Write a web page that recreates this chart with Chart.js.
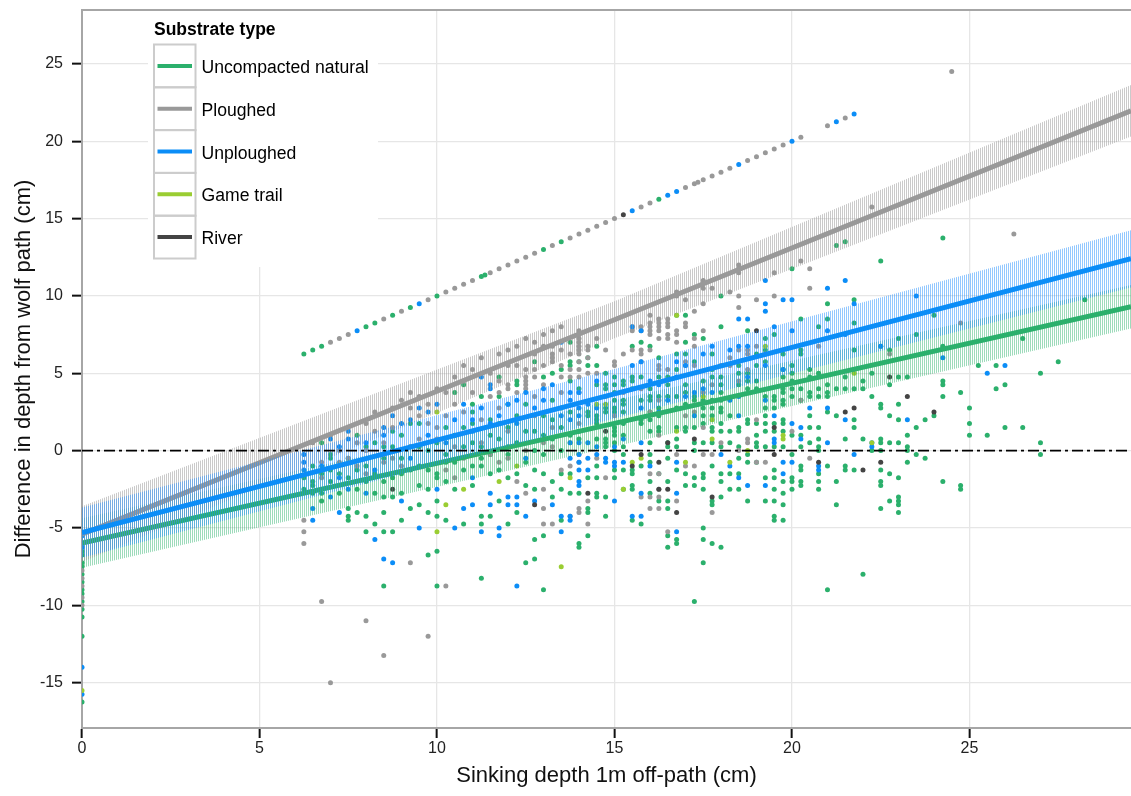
<!DOCTYPE html>
<html><head><meta charset="utf-8">
<script src="https://cdn.jsdelivr.net/npm/chart.js@4/dist/chart.umd.min.js"></script>
<style>html,body{margin:0;padding:0;background:#fff;}canvas{display:block;}</style>
</head><body>
<canvas id="c" width="1131" height="796"></canvas>
<script>
// ---------- labels ----------
const xTitle = 'Sinking depth 1m off-path (cm)';
const yTitle = 'Difference in depth from wolf path (cm)';
const legendTitle = 'Substrate type';
const seriesNames = ['Uncompacted natural', 'Ploughed', 'Unploughed', 'Game trail', 'River'];
const seriesColors = ['#2bb06c', '#999999', '#0b8df7', '#9acd32', '#444444'];
const xTicks = [0, 5, 10, 15, 20, 25];
const yTicks = [-15, -10, -5, 0, 5, 10, 15, 20, 25];
const xRange = [0, 29.55];
const yRange = [-17.93, 28.48];
const refLineY = 0;

// ---------- fitted lines and confidence bands ----------
const fitX = [0, 15, 29.55];
const naturalFit = [-5.97, 1.76, 9.3];
const naturalHi = [-4.37, 3.26, 10.7];
const naturalLo = [-7.57, 0.26, 7.9];
const ploughedFit = [-5.4, 8.46, 21.97];
const ploughedHi = [-3.6, 9.66, 23.64];
const ploughedLo = [-7.2, 7.26, 20.3];
const unploughedFit = [-5.3, 3.67, 12.4];
const unploughedHi = [-3.68, 5.27, 14.25];
const unploughedLo = [-6.92, 2.07, 10.55];

// ---------- observations ----------
const naturalPts = [
[0,-6.5],[0,-6.75],[0,-7.25],[0,-7.5],[0,-8],[0,-8.5],[0,-9],[0,-9.25],[0,-9.75],[0,-10.25],[0,-10.75],[0,-12],[0,-16.25],
[6.25,6.25],[6.5,6.5],[6.75,6.75],[8,8],[8.25,8.25],[8.75,8.75],[9.25,9.25],[10,10],[11.25,11.25],[11.35,11.35],[13,13],[13.5,13.5],[16.25,16.25],
[6.5,-2],[6.5,-2.25],[6.5,-1],[6.75,0.5],[6.75,-2.75],[6.75,-1.5],[7,-0.25],[7,-0.5],[7,-1.25],[7.25,-1.5],[7.5,-1.75],[7.5,-3.75],[7.5,-4.25],[7.5,-4.5],
[7.75,1],[7.75,-2.5],[7.75,-4],[8,-2],[8,-4.25],[8,-5.25],[8,-1],[8.25,0.5],[8.25,-2.75],[8.25,-4.75],[8.5,-0.5],[8.5,-4],[8.5,-5.25],[8.5,-8.75],[8.5,0.25],
[8.75,1.25],[8.75,0.25],[8.75,-1.75],[8.75,-5.25],[9,1],[9,-0.5],[9,-2.75],[9,-4.5],[9.25,1.75],[9.25,-3.75],[9.25,-1.25],[9.5,1.75],[9.5,0.25],[9.5,-1],
[9.75,0],[9.75,-2.5],[9.75,-6.75],[10,-1.5],[10,-1.75],[10,-3.25],[10,-6.5],[10,-8.75],[10.25,1.5],[10.25,-0.25],[10.25,-2],[10.25,-4.5],[10.5,3.75],[10.5,1],[10.5,-0.75],
[10.75,4.25],[10.75,-1.25],[10.75,0.25],[11,0.5],[11,-2.25],[11,-1],[11,2.5],[11.25,3.5],[11.25,-0.5],[11.25,-1],[11.25,-4.25],[11.25,-4.75],[11.25,-8.25],
[11.5,1],[11.5,-4.25],[11.5,-0.25],[11.5,2],[11.75,4.75],[11.75,3.5],[11.75,0.75],[11.75,-1.25],[12,-1.75],[12,1.5],[12,-0.25],[12,-4.75],
[12.25,4.25],[12.25,4.5],[12.25,0.5],[12.25,-1.5],[12.5,3],[12.5,-7.25],[12.5,1.25],[12.5,-2.25],[12.75,5.75],[12.75,-7],[12.75,0],[12.75,-1.25],[12.75,-5.75],
[13,4.75],[13,1],[13,-9],[13,2.25],[13,-1.5],[13,-5.5],[13.25,2],[13.25,5],[13.25,0.75],[13.25,-2],[13.25,-3],[13.5,5.25],[13.5,1.5],[13.5,-4.5],[13.5,0],[13.5,2.75],
[13.75,7],[13.75,5.75],[13.75,5.5],[13.75,4.5],[13.75,1],[13.75,-1.5],[13.75,-2.75],[13.75,2.5],
[14,5.75],[14,4],[14,1.25],[14,0.75],[14,-2.75],[14,-6],[14,-6.25],[14.25,6],[14.25,5.5],[14.25,2.5],[14.25,2.25],[14.25,-1.75],[14.25,-3.75],[14.25,-4],[14.25,-5.5],
[14.5,6.75],[14.5,5.5],[14.5,4.25],[14.5,2.25],[14.5,2],[14.5,1.75],[14.5,0.75],[14.5,-1],[14.5,-1.75],[14.5,-2.75],[14.5,-3],
[14.75,5],[14.75,4.25],[14.75,4],[14.75,2.75],[14.75,2.5],[14.75,0.75],[14.75,0.5],[14.75,0.25],[14.75,-3],[14.75,-4.25],
[15,4.75],[15,4.25],[15,3.75],[15,3.25],[15,2.75],[15,2.5],[15,1.5],[15,1.25],[15,1],[15,0.5],[15,0],[15,-1.25],[15,-1.75],
[15.25,4.5],[15.25,4.25],[15.25,3.25],[15.25,3],[15.25,2.5],[15.25,1.75],[15.25,1],[15.25,0.25],[15.25,-0.25],[15.25,-1.25],[15.25,-2.5],
[15.5,6.75],[15.5,4.75],[15.5,4.5],[15.5,4],[15.5,-1.25],[15.5,-1.5],[15.5,-2.25],[15.5,-2.5],[15.5,-4.5],
[15.75,7],[15.75,4.75],[15.75,3.25],[15.75,2],[15.75,1.75],[15.75,-1],[15.75,-4.75],
[16,6.75],[16,4],[16,3.5],[16,3.25],[16,2.5],[16,2],[16,1.25],[16,0.5],[16,-0.25],[16,-0.75],[16,-2],[16,-2.75],
[16.25,6],[16.25,4.75],[16.25,3.5],[16.25,2.75],[16.25,2.25],[16.25,1.5],[16.25,1.25],[16.25,-1.5],[16.25,-3.25],
[16.5,4.75],[16.5,4.25],[16.5,3.5],[16.5,0.5],[16.5,0.25],[16.5,-0.5],[16.5,-2],[16.5,-3.25],[16.5,-3.75],[16.5,-5.5],[16.5,-6.25],
[16.75,8.75],[16.75,6.25],[16.75,5.25],[16.75,3.5],[16.75,2.75],[16.75,1.5],[16.75,0.75],[16.75,0.25],[16.75,-1.25],[16.75,-5.75],[16.75,-6],
[17,8.75],[17,7],[17,6.25],[17,4.25],[17,3.75],[17,3],[17,1.5],[17,1.25],[17,-1.5],[17,-2.25],
[17.25,7.5],[17.25,5.75],[17.25,3.5],[17.25,3.25],[17.25,1.5],[17.25,0.5],[17.25,0],[17.25,-1.75],[17.25,-2.25],[17.25,-9.75],
[17.5,7.25],[17.5,4.5],[17.5,3.25],[17.5,2.75],[17.5,2.25],[17.5,1.75],[17.5,0.5],[17.5,-1.5],[17.5,-1.75],[17.5,-2.5],[17.5,-5],[17.5,-5.75],[17.5,-7.25],
[17.75,6.25],[17.75,5.25],[17.75,4.75],[17.75,3.25],[17.75,2.75],[17.75,2.25],[17.75,1.5],[17.75,1.25],[17.75,0.5],[17.75,-1],[17.75,-3.25],[17.75,-3.5],[17.75,-6],
[18,10],[18,8],[18,4.75],[18,4.25],[18,3.75],[18,3.25],[18,2.75],[18,2.5],[18,1.75],[18,1.25],[18,0.25],[18,-1.5],[18,-2],[18,-3],[18,-6.25],
[18.25,2.25],[18.25,1.25],[18.25,0.5],[18.25,-1.5],[18.25,-2.5],
[18.5,5.5],[18.5,5],[18.5,4.25],[18.5,1.5],[18.5,1.25],[18.5,0.25],[18.5,-0.5],[18.5,-1.5],[18.5,-2.5],
[18.75,7.75],[18.75,5],[18.75,4.5],[18.75,4],[18.75,2],[18.75,1.75],[18.75,-0.25],[18.75,-0.75],[18.75,-3.25],
[19,6.25],[19,5.5],[19,4.5],[19,4],[19,1.75],[19,1],[19,0.5],[19,0.25],[19,-0.75],
[19.25,7.25],[19.25,6.5],[19.25,5.75],[19.25,3.5],[19.25,2.75],[19.25,2.25],[19.25,1.75],[19.25,1.25],[19.25,0.25],[19.25,-1.75],[19.25,-3.25],
[19.5,7.5],[19.5,3.5],[19.5,3.25],[19.5,2.75],[19.5,1.75],[19.5,1.25],[19.5,0.25],[19.5,-1.25],[19.5,-1.75],[19.5,-2.5],[19.5,-3.25],[19.5,-4.25],[19.5,-4.5],
[19.75,6.25],[19.75,5.25],[19.75,4.75],[19.75,4],[19.75,3.75],[19.75,3.25],[19.75,3],[19.75,2],[19.75,1.75],[19.75,1.25],[19.75,0.25],[19.75,-2],[19.75,-2.75],[19.75,-3.5],[19.75,-4.5],
[20,11.75],[20,5.5],[20,5],[20,4.5],[20,4],[20,3.5],[20,1],[20,-0.25],[20,-1.75],[20,-2],[20,-2.5],
[20.25,8.5],[20.25,6.5],[20.25,6.25],[20.25,4],[20.25,3.25],[20.25,1],[20.25,0.25],[20.25,-1],[20.25,-1.25],[20.25,-2],[20.25,-2.25],
[20.5,5.25],[20.5,4.75],[20.5,3.75],[20.5,3.5],[20.5,2.25],[20.5,1.5],[20.5,0.5],
[20.75,8],[20.75,5],[20.75,4],[20.75,3.5],[20.75,1.5],[20.75,0.75],[20.75,0.25],[20.75,0],[20.75,-1.5],[20.75,-2],[20.75,-2.5],
[21,9.5],[21,8.5],[21,4.25],[21,3.75],[21,3.5],[21,2.5],[21,-1],[21,-9],
[21.25,13.25],[21.25,4],[21.25,2.25],[21.25,-2],[21.25,-3.5],
[21.5,13.5],[21.5,4.75],[21.5,4],[21.5,0.75],[21.5,-1],[21.5,-1.25],
[21.75,9.75],[21.75,8.25],[21.75,6.5],[21.75,4],[21.75,2],[21.75,1.5],[21.75,-1.25],
[22,4.5],[22,4],[22,0.75],[22,-8],[22.25,5],[22.25,3.5],[22.25,0],
[22.5,12.25],[22.5,6.75],[22.5,3],[22.5,2.75],[22.5,0.75],[22.5,0.5],[22.5,0],[22.5,-1.25],[22.5,-2],[22.5,-2.25],[22.5,-3.75],
[22.75,6.5],[22.75,4.25],[22.75,2.25],[22.75,0.5],[22.75,-1.5],[22.75,-3.25],
[23,7.25],[23,4.75],[23,3],[23,2],[23,0.5],[23,-1.75],[23,-3],[23,-3.25],[23,-3.5],[23,-4],
[23.25,4.75],[23.25,1],[23.25,0.25],[23.25,0],[23.25,-0.75],[23.5,7.5],[23.5,1.5],[23.5,-0.25],[23.75,2],[23.75,-0.5],
[24,8.75],[24,2.25],[24.25,13.75],[24.25,6.75],[24.25,4.5],[24.25,4.25],[24.25,3.5],[24.25,-2],
[24.75,3.75],[24.75,-2.25],[24.75,-2.5],[25,2.75],[25,1.75],[25,1],[25.25,5.5],[25.5,1],[25.75,5.5],[25.75,4],
[26,4.25],[26,1.5],[26.5,7.25],[26.5,1.5],[27,5],[27,0.5],[27,-0.25],[27.5,5.75],[28.25,9.75],
[6.25,-1.75],[6.25,-2.5],[6.5,-2.75],[6.75,-3.25],[7,-2],[7.25,-2.75],[7.5,-0.5],[7.75,-1.25],[8,0.25],[8.25,-1.5],[8.5,-2],[8.75,-3],[9,-1.5],[9.25,0.25],
[9.5,-2.25],[9.75,-1.25],[10,0.5],[10.25,-0.75],[10.5,-2.5],[10.75,1.5],[11,1.75],[11.25,0.25],[11.5,-1.5],[11.75,1.75],[12,0.25],[12.25,2.25],[12.5,-0.75],
[12.75,1.25],[13,-0.25],[13.25,3.25],[13.5,-1.5],[12,3],[11,3],[10,-4.25],[9.5,-3.5],[8.5,-3],[12.25,-4],[12.75,-2.5],[13.5,-2.5],[11.75,-3.25],[10.75,-4.75],[9.75,-4]
];
const ploughedPts = [
[0,-7.75],[0,-8.25],[0,-8.75],[0,-9.5],[0,-10],
[7,7],[7.25,7.25],[7.5,7.5],[8.5,8.5],[9,9],[9.75,9.75],[10.25,10.25],[10.5,10.5],[10.75,10.75],[11,11],[11.5,11.5],[11.75,11.75],[12,12],[12.25,12.25],[12.5,12.5],[12.75,12.75],
[13.25,13.25],[13.75,13.75],[14,14],[14.25,14.25],[14.5,14.5],[14.75,14.75],[15,15],[15.75,15.75],[16,16],[17,17],[17.25,17.25],[17.35,17.35],[17.5,17.5],[17.75,17.75],[18,18],
[18.25,18.25],[18.75,18.75],[19,19],[19.25,19.25],[19.5,19.5],[19.75,19.75],[20.25,20.25],[21,21],[21.5,21.5],
[6.75,-9.75],[8,-11],[9.75,-12],[8.5,-13.25],[7,-15],[10.25,-8.75],[9.25,-7.25],[24.5,24.5],[26.25,14],[22.25,15.75],[24.75,8.25],[22.75,6.25],
[20.25,12.25],[20.5,11.75],[19.5,11.5],[20.5,10.5],[18.5,12],[18.5,11.75],[18.5,11.5],[17.5,11],[17.5,10.5],[17.75,10.5],[16.75,10.25],[16.75,10],[17,9.75],[18.25,10.25],[18.5,10],[19,9.75],[19.5,10],[17.5,9.5],[18.5,9.25],
[6.25,-4.5],[6.25,-5.25],[6.25,-6],[6.75,-1.75],[7.25,-0.75],[7.25,0],[7.75,0.5],[8,1.75],[8,0],[8,-1.5],[8.25,1.25],[8.5,0.5],[8.5,-0.25],[8.5,-0.75],[8.75,1.5],[9,-1],
[9.25,3.75],[9.5,2.25],[9.75,3],[10,0.75],[10.25,3.75],[10.5,0.25],[10.5,-1.75],[10.75,4.5],[11.5,3.5],[11.5,-0.25],[11.75,3.75],[11.75,4.5],[12,4],[12,4.25],[12,-0.5],
[12.25,5.5],[12.5,5.25],[12.5,4.75],[12.5,4.5],[12.5,4.25],[12.5,4],[12.5,0],[12.75,5.25],[12.75,4.75],[12.75,3.5],[13,6.75],[13,4.25],[13,0.5],[13,-3.75],[13,-4.75],
[13.25,6.75],[13.25,6.25],[13.25,6],[13.25,5.75],[13.25,-4.75],[13.25,0.25],[13.5,5.5],[13.5,4.75],[13.5,3.75],[13.75,6.25],[13.75,5.25],[13.75,4.75],[13.75,0.5],[13.75,-1],[13.75,-4.25],
[14,7.75],[14,7.5],[14,7.25],[14,7],[14,6.75],[14,6.5],[14,6.25],[14,5.75],[14,5.25],[14,4.75],[14,3.75],[14,1.75],[14,-0.25],[14,-0.75],[14,-3.75],[14,-4],
[14.25,6.75],[14.25,6.5],[14.25,6],[14.25,5],[14.25,-3.25],[14.25,-4.75],[14.5,7.25],[14.5,5],[14.5,-0.5],
[14.75,6.5],[14.75,3.5],[14.75,-1.75],[15,5.75],[15,5.5],[15,2.25],[15.25,6.25],[15.25,3.75],[15.5,8],[15.5,7.75],[15.5,6.5],
[15.75,8],[15.75,7.75],[15.75,6.5],[15.75,6.25],[15.75,5.75],[15.75,4],[15.75,-3],
[16,8.75],[16,8.25],[16,8],[16,7.75],[16,7.5],[16,6.5],[16,2.5],[16,-1.5],[16,-3],[16,-3.75],
[16.25,8.5],[16.25,8.25],[16.25,8],[16.25,7.75],[16.25,7.25],[16.25,5.5],[16.25,5.25],[16.25,3.25],[16.25,1],[16.25,-1.5],[16.25,-2.5],[16.25,-3],[16.25,-3.75],
[16.5,8.5],[16.5,8.25],[16.5,8],[16.5,7.5],[16.5,7.25],[16.5,5.25],[16.5,-5.25],[16.75,7.75],[16.75,7.5],[16.75,7],[16.75,-0.25],[16.75,-3.25],
[17,8.25],[17,8],[17,5.75],[17,5.5],[17,2.25],[17,-1],[17.25,9],[17.25,7.25],[17.25,6.75],[17.25,5.5],[17.25,2.5],[17.25,-1],
[17.5,7.75],[17.5,3.75],[17.5,1.5],[17.5,-0.25],[17.75,4.25],[17.75,-0.25],[17.75,-4],[18,5.5],[18,0.5],[18.25,6],[18.25,5.5],
[18.5,6.5],[18.5,4.5],[18.5,0],[18.75,6.5],[18.75,6.25],[18.75,5.25],[18.75,0.75],[18.75,0.5],[19,6.75],[19,2],[19,-0.75],[19.25,6.25],[19.25,-0.75],
[20,1.25],[20.25,3.25],[20.5,-0.5],[20.75,6.75],
[8.25,2.5],[8.75,2.75],[9,3.25],[9.25,2.75],[9.5,3.5],[9.75,1.75],[10,4],[10,1.5],[10.25,2.25],[10.5,4.75],[10.5,3],[10.75,5.5],[10.75,2.5],[11,3.75],[11,5.25],
[11.25,2],[11.25,6],[11.5,5],[11.75,6.25],[11.75,2.75],[12,5.5],[12,6.5],[12.25,6.75],[12.25,3.75],[12.5,7.25],[12.75,6.25],[12.75,7],[13,7.5],[13,5.5],
[13.25,7.75],[13.5,8],[13.5,6.5],[9.5,0.75],[10.75,-0.5],[11.25,0.5],[12,1.25],[12.75,2.25],[13.25,1.5],[7.5,-0.5],[7.75,-1],[6.75,-0.75],[6.5,0.5],[7,1],
[8.75,-0.5],[9.25,0.25],[10.25,-1.25],[11.75,-0.75],[12.25,-2],[13.5,-1.25],[13,-2.5],[12.5,-2.75]
];
const unploughedPts = [
[0,-5.5],[0,-6],[0,-6.25],[0,-14],[0,-15.75],
[7.75,7.75],[9.5,9.5],[15.5,15.5],[16.5,16.5],[16.75,16.75],[18.5,18.5],[20,20],[21.25,21.25],[21.75,21.75],
[19.25,11],[21.5,11],[21,10.5],[19.25,9.5],[19.75,9.75],[20,9.75],[21.75,9.5],
[6.25,-0.25],[6.25,-0.75],[6.25,-1.25],[6.5,-3.75],[7,-3],[7.25,0.25],[7.5,1.25],[7.5,0.75],[8.25,-5.75],[8.5,1.5],[8.5,1],[8.5,-7],[8.75,-7.25],[9.25,2],[9.5,-5],[9.75,2.5],
[10.5,-5],[11,2],[11,-3.5],[11.25,4.75],[11.25,-5.25],[11.5,4.25],[11.5,4],[11.5,-3.5],[11.75,-5],[11.75,-5.5],[12,-3],[12,-3.5],[12.25,3.25],[12.25,-3],[12.25,-3.5],[12.25,-8.75],
[12.5,-4.25],[13,4],[13.5,7],[13.5,-4.25],[13.5,-5.25],[13.75,3.75],[13.75,3.25],[13.75,2],[13.75,0.5],[13.75,-0.5],[13.75,-4.25],[13.75,-4.5],
[14,3.75],[14,2.75],[14,2.25],[14,0.5],[14,-0.25],[14,-0.75],[14,-1.25],[14,-2],[14,-2.25],[14.25,3],[14.25,0.5],[14.25,-0.5],[14.25,-1.25],[14.5,4.5],[14.5,2.75],[14.5,0.25],[14.5,-0.25],
[14.75,-0.5],[14.75,-0.75],[15,0.25],[15,-0.75],[15,-1],[15,-3.25],[15.25,0.75],[15.25,-0.75],[15.5,8],[15.5,5.5],[15.5,-4.25],
[15.75,7.75],[15.75,5.75],[15.75,2.75],[15.75,0.5],[15.75,-2.75],[15.75,-4.25],[16,4.5],[16,-1],[16.25,4.25],[16.25,2.5],[16.5,3.25],
[16.75,5.75],[16.75,4.75],[16.75,-0.75],[16.75,-2.75],[16.75,-5.25],[17,5.5],[17,3.5],[17.25,3.75],[17.25,2.25],[17.5,6.25],[17.5,4],[17.75,6.75],[17.75,3.75],
[18,-0.25],[18.25,6.5],[18.25,3.25],[18.25,-1],[18.5,8.5],[18.5,6.75],[18.5,3.5],[18.5,2.25],[18.5,-1.75],[18.75,8.5],[18.75,6.75],[18.75,4.75],[18.75,-2.25],
[19.25,9],[19.25,5.5],[19.25,3.25],[19.25,-2.25],[19.5,8],[19.5,2.25],[19.5,0.75],[19.5,0.5],[19.75,5.25],[19.75,-0.75],[19.75,-1.5],
[20,7.75],[20,1.75],[20,-0.75],[20.25,1.5],[20.25,0.75],[20.5,2.75],[20.75,-1],[20.75,-1.25],[21,7.75],[21,2.75],[21,0.5],[21.5,7.5],[21.5,2],[21.75,-0.25],
[22.25,0.5],[22.25,0.25],[23.5,10],[22.5,6.75],[24.25,6],[26,5.5],[25.5,5],[23.25,2],
[6.75,-1],[7,0.75],[7.25,-1.75],[7.5,-2.5],[8,0.5],[8.25,-1.25],[8.75,2.25],[9,1.75],[9.25,-0.5],[9.5,2.75],[9.75,1],[10,3],[10.25,0.5],[10.5,2],[10.75,3],
[11,1.25],[11.25,2.75],[11.5,1.75],[11.75,2.25],[12,3],[12.25,1.75],[12.5,3.75],[12.75,2.75],[13,3.25],[13.25,4.25],[13.5,2.25],[12.5,-0.5],[11,-1.75],
[10,-2.5],[9,-3.25],[8,-2.75],[12.75,-3.25],[13.25,-3.5],[11.5,-2.75],[10.75,-3.75],[7.25,-4],[6.5,-4.5]
];
const gameTrailPts = [
[0,-15.5],[10,2.5],[10.25,-3.5],[10,-5.25],[10.75,-2.5],[11.75,-2],[12.25,-1],[13.75,-1.75],[13.5,-7.5],[14.5,3],[14.75,3],[15.25,-2.5],[15.5,-0.75],[15.75,-0.5],
[16.75,8.75],[16.75,1.25],[17,-0.75],[17.5,3.5],[17.75,2],[17.75,0.75],[18.25,-0.75],[18.75,0],[19.25,6.75],[19.75,0.75],[19.75,1],[21.75,5],[22.25,0.5]
];
const riverPts = [
[15.25,15.25],[8.75,-2.5],[12.75,-3.5],[14.25,-2.75],[14.75,1.25],[15.5,-1],[15.75,-0.25],[16.25,-0.75],[16.25,-2.5],[16.5,0.5],[16.5,-2.5],[16.75,-4],[17.25,0.75],[17.75,-3],
[19,7.75],[19.5,1.5],[19.5,-0.25],[20.75,-0.75],[21.5,2.5],[21.75,2.75],[22,-1.25],[22.5,-0.75],[22.75,4.75],[23.25,3.5],[24,2.5]
];

// ---------- build ----------
const canvas = document.getElementById('c');
const ctx = canvas.getContext('2d');
Chart.defaults.font.family = "'Liberation Sans', Arial, Helvetica, sans-serif";

function hatch(rgba) {
  const p = document.createElement('canvas');
  p.width = 2; p.height = 4;
  const pc = p.getContext('2d');
  pc.fillStyle = rgba; pc.fillRect(0, 0, 1, 4);
  return ctx.createPattern(p, 'repeat');
}
const toXY = arr => arr.map(p => ({x: p[0], y: p[1]}));
const fitXY = ys => fitX.map((x, i) => ({x, y: ys[i]}));

const pointSets = [naturalPts, ploughedPts, unploughedPts, gameTrailPts, riverPts];
const datasets = [];
pointSets.forEach((pts, i) => {
  datasets.push({type: 'scatter', label: seriesNames[i], data: toXY(pts), backgroundColor: seriesColors[i],
    pointRadius: 2.5, pointBorderWidth: 0, pointHoverRadius: 2.5, order: 20 - i, clip: 0});
});
const fits = [
  {fit: naturalFit, hi: naturalHi, lo: naturalLo, color: seriesColors[0], hatch: 'rgba(40,175,105,0.45)', order: 9},
  {fit: ploughedFit, hi: ploughedHi, lo: ploughedLo, color: seriesColors[1], hatch: 'rgba(150,150,150,0.5)', order: 7},
  {fit: unploughedFit, hi: unploughedHi, lo: unploughedLo, color: seriesColors[2], hatch: 'rgba(30,140,255,0.48)', order: 5}
];
fits.forEach(f => {
  datasets.push({type: 'line', data: fitXY(f.hi), borderWidth: 0, pointRadius: 0, fill: false, order: f.order});
  datasets.push({type: 'line', data: fitXY(f.lo), borderWidth: 0, pointRadius: 0, fill: '-1', backgroundColor: hatch(f.hatch), order: f.order});
  datasets.push({type: 'line', data: fitXY(f.fit), borderColor: f.color, borderWidth: 5, pointRadius: 0, fill: false, order: f.order - 1, borderCapStyle: 'butt'});
});

const decor = {
  id: 'decor',
  afterDatasetsDraw(chart) {
    const c = chart.ctx, a = chart.chartArea, y0 = chart.scales.y.getPixelForValue(refLineY);
    c.save();
    c.beginPath(); c.rect(a.left, a.top, a.right - a.left, a.bottom - a.top); c.clip();
    c.setLineDash([11, 4, 3, 4]); c.strokeStyle = '#000'; c.lineWidth = 1.6;
    c.beginPath(); c.moveTo(a.left, y0); c.lineTo(a.right, y0); c.stroke();
    c.restore();
  },
  afterDraw(chart) {
    const c = chart.ctx, a = chart.chartArea;
    c.save();
    // legend
    c.fillStyle = '#fff'; c.fillRect(148, a.top + 1, 230, 256);
    c.fillStyle = '#000'; c.font = "bold 17.5px 'Liberation Sans', Arial, sans-serif"; c.textBaseline = 'alphabetic';
    c.fillText(legendTitle, 154, 35);
    c.font = "17.6px 'Liberation Sans', Arial, sans-serif";
    seriesNames.forEach((name, i) => {
      const top = 44.5 + i * 42.8;
      c.strokeStyle = '#cccccc'; c.lineWidth = 2; c.setLineDash([]);
      c.strokeRect(154, top, 41.5, 42.8);
      c.strokeStyle = seriesColors[i]; c.lineWidth = 4;
      c.beginPath(); c.moveTo(157.5, top + 21.4); c.lineTo(192, top + 21.4); c.stroke();
      c.fillStyle = '#000';
      c.fillText(name, 201.5, top + 28.5);
    });
    // top panel border
    c.strokeStyle = '#a6a6a6'; c.lineWidth = 2;
    c.beginPath(); c.moveTo(a.left, a.top); c.lineTo(a.right, a.top); c.stroke();
    c.restore();
  }
};

new Chart(ctx, {
  type: 'scatter',
  data: {datasets},
  options: {
    responsive: false, animation: false, devicePixelRatio: 1, events: [],
    layout: {autoPadding: false, padding: {top: 10, right: 0, bottom: 0, left: 0}},
    plugins: {legend: {display: false}, tooltip: {enabled: false}},
    scales: {
      x: {
        type: 'linear', min: xRange[0], max: xRange[1],
        afterBuildTicks: s => { s.ticks = xTicks.map(v => ({value: v})); },
        afterFit: s => { s.height = 68; s.paddingLeft = 0; s.paddingRight = 0; },
        ticks: {font: {size: 16}, color: '#222', padding: 1, maxRotation: 0, autoSkip: false},
        grid: {color: '#e6e6e6', lineWidth: 1.3, tickColor: '#111', tickLength: 10, tickWidth: 2},
        border: {color: '#a6a6a6', width: 2},
        title: {display: true, text: xTitle, font: {size: 22}, color: '#111', padding: {top: 0, bottom: 7}}
      },
      y: {
        type: 'linear', min: yRange[0], max: yRange[1],
        afterBuildTicks: s => { s.ticks = yTicks.map(v => ({value: v})); },
        afterFit: s => { s.width = 82; s.paddingTop = 0; s.paddingBottom = 0; },
        ticks: {font: {size: 16}, color: '#222', padding: 9, autoSkip: false},
        grid: {color: '#e6e6e6', lineWidth: 1.3, tickColor: '#111', tickLength: 10, tickWidth: 2},
        border: {color: '#a6a6a6', width: 2},
        title: {display: true, text: yTitle, font: {size: 22}, color: '#111', padding: {top: 11, bottom: 0}}
      }
    }
  },
  plugins: [decor]
});
</script>
</body></html>
